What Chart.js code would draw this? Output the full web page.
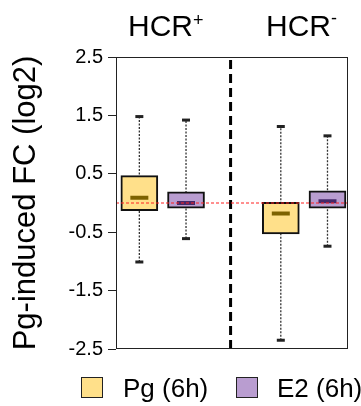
<!DOCTYPE html>
<html>
<head>
<meta charset="utf-8">
<script src="https://cdn.jsdelivr.net/npm/chart.js@4.4.1/dist/chart.umd.min.js"></script>
<style>
  body { margin: 0; background: #fff; font-family: "Liberation Sans", Arial, sans-serif; }
  #wrap { position: relative; width: 361px; height: 406px; }
  .head { position: absolute; top: 11px; font-size: 30px; line-height: 30px; color: #000; white-space: nowrap; }
  .head span { position: relative; font-size: 18px; }
  .legend { position: absolute; top: 375px; font-size: 26px; line-height: 26px; color: #000; white-space: nowrap; }
  .swatch { position: absolute; width: 20px; height: 19px; border: 1.5px solid #222; }
</style>
</head>
<body>
<div id="wrap">
  <canvas id="boxChart"></canvas>
  <div class="head" style="left:128px">HCR<span style="top:-10px">+</span></div>
  <div class="head" style="left:266px">HCR<span style="top:-12px">-</span></div>
  <div class="swatch" style="left:81px; top:377px; background:#ffe08a"></div>
  <div class="legend" style="left:123px">Pg (6h)</div>
  <div class="swatch" style="left:236px; top:377px; background:#b99dd0"></div>
  <div class="legend" style="left:277px">E2 (6h)</div>
</div>
<script>
// groups along x, two treatments per group
const groups = ['HCR+', 'HCR-'];
const seriesNames = ['Pg (6h)', 'E2 (6h)'];

// box stats per group (log2 FC)
const pgMin    = [-1.01, -2.35];
const pgQ1     = [-0.13, -0.53];
const pgMedian = [0.09, -0.18];
const pgQ3     = [0.47, 0.01];
const pgMax    = [1.48, 1.31];

const e2Min    = [-0.61, -0.74];
const e2Q1     = [-0.09, -0.09];
const e2Median = [0.0, 0.03];
const e2Q3     = [0.19, 0.21];
const e2Max    = [1.42, 1.15];

const yTicks = [-2.5, -1.5, -0.5, 0.5, 1.5, 2.5];
const refLine = 0;

// layout of the x axis (group i sits at x = i)
const OFFSET = 0.165;
const DIVIDER = 0.48;
const X_MIN = -0.33, X_MAX = 1.31;

const series = [
  { name: seriesNames[0], min: pgMin, q1: pgQ1, med: pgMedian, q3: pgQ3, max: pgMax,
    fill: '#ffe08a', medColor: '#7d6200', dx: -OFFSET },
  { name: seriesNames[1], min: e2Min, q1: e2Q1, med: e2Median, q3: e2Q3, max: e2Max,
    fill: '#b99dd0', medColor: '#45296a', dx: OFFSET }
];

const datasets = [];

// boxes
series.forEach(s => {
  datasets.push({
    type: 'bar',
    label: s.name,
    data: groups.map((g, i) => ({ x: i + s.dx, y: [s.q1[i], s.q3[i]] })),
    backgroundColor: s.fill,
    borderColor: '#111',
    borderWidth: 2,
    borderSkipped: false,
    barThickness: 37,
    grouped: false,
    order: 3
  });
});

// whiskers (dotted) and caps
series.forEach(s => {
  groups.forEach((g, i) => {
    datasets.push({
      type: 'line',
      data: [{ x: i + s.dx, y: s.min[i] }, { x: i + s.dx, y: s.max[i] }],
      borderColor: '#333',
      borderWidth: 1.3,
      borderDash: [2, 1.5],
      pointRadius: 0,
      order: 6
    });
  });
  datasets.push({
    type: 'line',
    showLine: false,
    data: groups.flatMap((g, i) => [{ x: i + s.dx, y: s.min[i] }, { x: i + s.dx, y: s.max[i] }]),
    pointStyle: 'line',
    pointRadius: 4,
    pointBorderWidth: 3,
    pointBorderColor: '#222',
    order: 2
  });
  // medians
  datasets.push({
    type: 'line',
    showLine: false,
    data: groups.map((g, i) => ({ x: i + s.dx, y: s.med[i] })),
    pointStyle: 'line',
    pointRadius: 9,
    pointBorderWidth: 4,
    pointBorderColor: s.medColor,
    order: 1
  });
});

// group divider
datasets.push({
  type: 'line',
  data: [{ x: DIVIDER, y: yTicks[0] }, { x: DIVIDER, y: yTicks[yTicks.length - 1] }],
  borderColor: '#000',
  borderWidth: 3,
  borderDash: [9, 5],
  pointRadius: 0,
  order: 4
});

// red reference line at 0
datasets.push({
  type: 'line',
  data: [{ x: X_MIN, y: refLine }, { x: X_MAX, y: refLine }],
  borderColor: '#ff2020',
  borderWidth: 1.2,
  borderDash: [3, 2],
  pointRadius: 0,
  order: 0
});

const framePlugin = {
  id: 'frame',
  afterDraw(chart) {
    const { ctx, chartArea: a } = chart;
    ctx.save();
    ctx.strokeStyle = '#222';
    ctx.lineWidth = 1;
    ctx.strokeRect(Math.round(a.left) + 0.5, Math.round(a.top) + 0.5,
                   Math.round(a.right - a.left) - 1, Math.round(a.bottom - a.top) - 1);
    ctx.restore();
  }
};

new Chart(document.getElementById('boxChart'), {
  type: 'bar',
  data: { datasets },
  plugins: [framePlugin],
  options: {
    responsive: true,
    maintainAspectRatio: false,
    animation: false,
    layout: { padding: { top: 57, right: 9, bottom: 57, left: 0 } },
    plugins: { legend: { display: false }, tooltip: { enabled: false } },
    scales: {
      x: {
        type: 'linear',
        min: X_MIN,
        max: X_MAX,
        offset: false,
        display: false
      },
      y: {
        min: yTicks[0],
        max: yTicks[yTicks.length - 1],
        afterBuildTicks: scale => { scale.ticks = yTicks.map(v => ({ value: v })); },
        afterFit: scale => { scale.width = 116; },
        border: { display: false },
        grid: { drawOnChartArea: false, tickLength: 8, color: '#222', lineWidth: 1 },
        ticks: {
          padding: 5,
          color: '#000',
          font: { family: 'Liberation Sans', size: 20 },
          callback: v => v.toFixed(1)
        },
        title: {
          display: true,
          text: 'Pg-induced FC (log2)',
          color: '#000',
          font: { family: 'Liberation Sans', size: 31, lineHeight: 1.2 },
          padding: { top: 8, bottom: 0 }
        }
      }
    }
  }
});
</script>
</body>
</html>
